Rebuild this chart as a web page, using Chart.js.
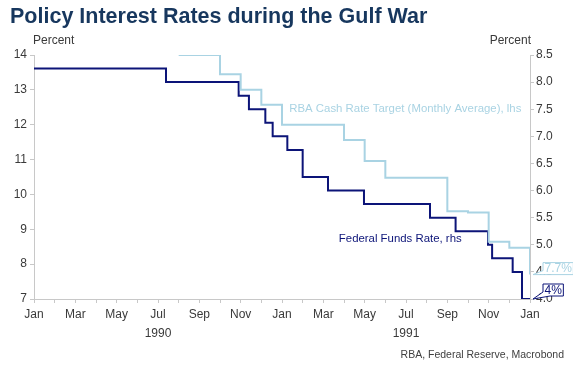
<!DOCTYPE html>
<html>
<head>
<meta charset="utf-8">
<script src="https://cdn.jsdelivr.net/npm/chart.js@4/dist/chart.umd.min.js"></script>
<style>
  body { margin: 0; background: #fff; }
  #wrap { position: relative; width: 573px; height: 368px; overflow: hidden; }
  #chart { position: absolute; left: 0; top: 0; }
  .title {
    position: absolute; left: 10px; top: 3px; margin: 0;
    font: bold 21.5px "Liberation Sans", Arial, sans-serif; line-height: 26px;
    color: #17375e; white-space: nowrap;
  }
  .source {
    position: absolute; right: 9px; top: 347px;
    font: 10.5px "Liberation Sans", Arial, sans-serif; line-height: 14px;
    color: #404040; white-space: nowrap;
  }
</style>
</head>
<body>
<div id="wrap">
  <canvas id="chart" width="573" height="368"></canvas>
  <h1 class="title">Policy Interest Rates during the Gulf War</h1>
  <div class="source">RBA, Federal Reserve, Macrobond</div>
</div>
<script>
// month labels for the x axis (0 = Jan 1990)
const monthNames = ["Jan", "Feb", "Mar", "Apr", "May", "Jun", "Jul", "Aug", "Sep", "Oct", "Nov", "Dec"];

// Federal funds target, changes (rhs)
const fedDates = ["1990-01-01", "1990-07-13", "1990-10-29", "1990-11-13", "1990-12-07", "1990-12-18",
  "1991-01-09", "1991-02-01", "1991-03-08", "1991-04-30", "1991-08-06", "1991-09-13",
  "1991-10-31", "1991-11-06", "1991-12-06", "1991-12-20", "1992-01-01"];
const fedRates = [8.25, 8.0, 7.75, 7.5, 7.25, 7.0, 6.75, 6.25, 6.0, 5.75, 5.5, 5.25, 5.0, 4.75, 4.5, 4.0, 4.0];

// RBA cash rate target, monthly average (lhs)
const rbaDates = ["1990-08-01", "1990-09-01", "1990-10-01", "1990-11-01", "1990-12-01", "1991-01-01",
  "1991-02-01", "1991-03-01", "1991-04-01", "1991-05-01", "1991-06-01", "1991-07-01",
  "1991-08-01", "1991-09-01", "1991-10-01", "1991-11-01", "1991-12-01", "1992-01-01"];
const rbaRates = [14.0, 14.0, 13.45, 13.0, 12.57, 12.0, 12.0, 12.0, 11.56, 10.96, 10.48, 10.48,
  10.48, 9.52, 9.48, 8.64, 8.47, 7.7];

const leftTicks = [7, 8, 9, 10, 11, 12, 13, 14];
const rightTicks = [4.0, 4.5, 5.0, 5.5, 6.0, 6.5, 7.0, 7.5, 8.0, 8.5];

const FONT = '"Liberation Sans", Arial, sans-serif';
const TEXT = "#3a3a3a";
const AXIS = "#c8c8c8";
const NAVY = "#0c1478";
const LIGHT = "#a9d3e3";

// date string -> fractional month index from Jan 1990
function toMonth(s) {
  const [y, m, d] = s.split("-").map(Number);
  const days = new Date(y, m, 0).getDate();
  return (y - 1990) * 12 + (m - 1) + (d - 1) / days;
}

const fedPoints = fedDates.map((d, i) => ({ x: toMonth(d), y: fedRates[i] }));
const rbaPoints = rbaDates.map((d, i) => ({ x: toMonth(d), y: rbaRates[i] }));

// texts and end-of-line callouts
const extras = {
  id: "extras",
  afterDatasetsDraw(chart) {
    const { ctx, chartArea, scales } = chart;
    ctx.save();
    ctx.font = "12px " + FONT;
    ctx.fillStyle = TEXT;
    ctx.textBaseline = "middle";
    ctx.textAlign = "left";
    ctx.fillText("Percent", chartArea.left - 1, chartArea.top - 14);
    ctx.textAlign = "right";
    ctx.fillText("Percent", chartArea.right + 1, chartArea.top - 14);

    ctx.font = "11.4px " + FONT;
    ctx.textAlign = "left";
    ctx.fillStyle = LIGHT;
    ctx.fillText("RBA Cash Rate Target (Monthly Average), lhs",
      scales.x.getPixelForValue(12.35), scales.y.getPixelForValue(12.45));
    ctx.fillStyle = NAVY;
    ctx.fillText("Federal Funds Rate, rhs",
      scales.x.getPixelForValue(14.75), scales.y1.getPixelForValue(5.1));

    ctx.font = "12px " + FONT;
    const callout = (meta, text, color, dy) => {
      const p = meta.data[meta.data.length - 1];
      const w = ctx.measureText(text).width + 3;
      const h = 12;
      const bx = p.x + 13, by = p.y + dy;
      ctx.beginPath();
      ctx.moveTo(bx, by);
      ctx.lineTo(bx + w, by);
      ctx.lineTo(bx + w, by + h);
      ctx.lineTo(bx + 7, by + h);
      ctx.lineTo(p.x + 3, p.y);
      ctx.lineTo(bx, by + h - 4);
      ctx.closePath();
      ctx.fillStyle = "#fff";
      ctx.fill();
      ctx.strokeStyle = color;
      ctx.lineWidth = 1;
      ctx.stroke();
      ctx.fillStyle = color;
      ctx.textAlign = "center";
      ctx.fillText(text, bx + w / 2, by + h / 2 + 0.5);
    };
    callout(chart.getDatasetMeta(0), "7.7%", LIGHT, -12);
    callout(chart.getDatasetMeta(1), "4%", NAVY, -15);
    ctx.restore();
  }
};

new Chart(document.getElementById("chart"), {
  type: "line",
  data: {
    datasets: [
      {
        label: "RBA Cash Rate Target (Monthly Average), lhs",
        data: rbaPoints,
        yAxisID: "y",
        borderColor: LIGHT,
        borderWidth: 2,
        pointRadius: 0,
        stepped: true,
        fill: false
      },
      {
        label: "Federal Funds Rate, rhs",
        data: fedPoints,
        yAxisID: "y1",
        borderColor: NAVY,
        borderWidth: 2,
        pointRadius: 0,
        stepped: true,
        fill: false
      }
    ]
  },
  options: {
    responsive: false,
    animation: false,
    events: [],
    layout: { padding: { top: 55, left: 0, right: 0, bottom: 0 } },
    plugins: {
      legend: { display: false },
      tooltip: { enabled: false }
    },
    scales: {
      x: {
        type: "linear",
        min: 0,
        max: 24,
        afterFit: (s) => { s.height = 69; },
        afterBuildTicks: (s) => { s.ticks = Array.from({ length: 25 }, (_, i) => ({ value: i })); },
        border: { color: AXIS, width: 1 },
        grid: { drawOnChartArea: false, drawTicks: true, tickLength: 4, color: AXIS },
        ticks: {
          autoSkip: false,
          maxRotation: 0,
          padding: 2,
          color: TEXT,
          font: { family: FONT, size: 12, lineHeight: 1.6 },
          callback: (v) => {
            if (v % 2 !== 0) return "";
            const name = monthNames[v % 12];
            if (v % 12 === 6) return [name, String(1990 + Math.floor(v / 12))];
            return name;
          }
        }
      },
      y: {
        position: "left",
        min: 7,
        max: 14,
        afterFit: (s) => { s.width = 34; },
        afterBuildTicks: (s) => { s.ticks = leftTicks.map((v) => ({ value: v })); },
        border: { color: AXIS, width: 1 },
        grid: { drawOnChartArea: false, drawTicks: true, tickLength: 4, color: AXIS },
        ticks: { padding: 3, color: TEXT, font: { family: FONT, size: 12 } }
      },
      y1: {
        position: "right",
        min: 4,
        max: 8.5,
        afterFit: (s) => { s.width = 43; },
        afterBuildTicks: (s) => { s.ticks = rightTicks.map((v) => ({ value: v })); },
        border: { color: AXIS, width: 1 },
        grid: { drawOnChartArea: false, drawTicks: true, tickLength: 4, color: AXIS },
        ticks: {
          padding: 2,
          color: TEXT,
          font: { family: FONT, size: 12 },
          callback: (v) => v.toFixed(1)
        }
      }
    }
  },
  plugins: [extras]
});
</script>
</body>
</html>
